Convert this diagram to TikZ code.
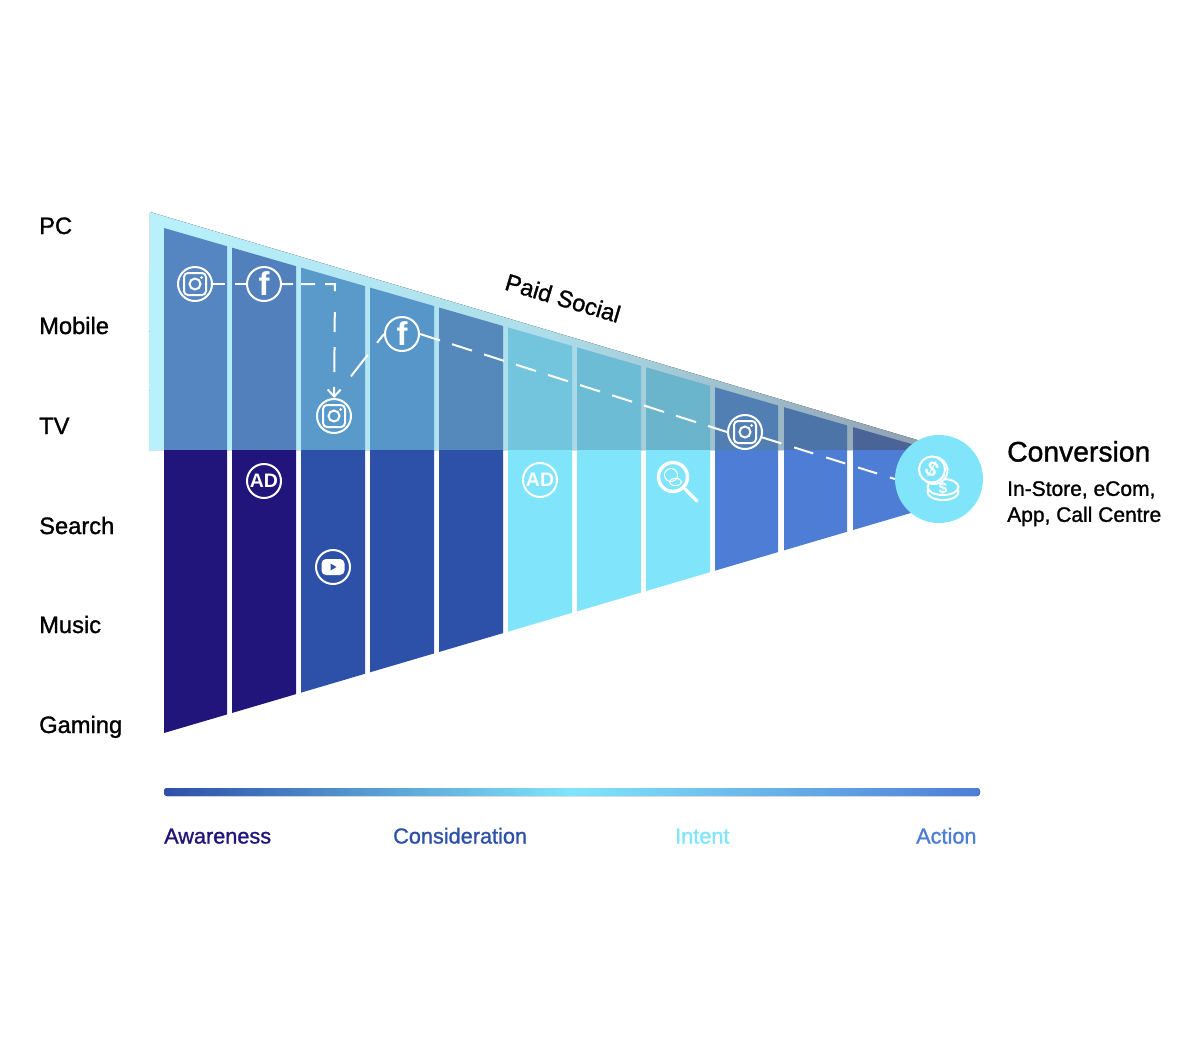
\documentclass[tikz,border=0pt]{standalone}
\usepackage{fontspec}
\setmainfont{Liberation Sans}
\newfontfamily\medfont[FakeBold=1.2]{Liberation Sans}
\usetikzlibrary{arrows.meta,shapes.geometric}
\definecolor{deep}{HTML}{21147A}
\definecolor{royal}{HTML}{2D50A8}
\definecolor{aqua}{HTML}{80E5FA}
\definecolor{sky}{HTML}{4E7DD6}
\definecolor{stripa}{HTML}{B8F1FC}
\definecolor{stripb}{HTML}{ADDDE9}
\definecolor{stripc}{HTML}{8E9CAD}
\definecolor{upa}{HTML}{5586C2}
\definecolor{upb}{HTML}{5180BD}
\definecolor{upc}{HTML}{5A9ACB}
\definecolor{upd}{HTML}{5796C8}
\definecolor{upe}{HTML}{5589BB}
\definecolor{upf}{HTML}{72C5DD}
\definecolor{upg}{HTML}{6CBCD5}
\definecolor{uph}{HTML}{6AB4CC}
\definecolor{upi}{HTML}{517FB4}
\definecolor{upj}{HTML}{4D74A8}
\definecolor{upk}{HTML}{4B6498}
\tikzset{
  rowlabel/.style={anchor=base west,inner sep=0pt,font=\medfont\fontsize{23.7}{28}\selectfont},
  stagelabel/.style={anchor=base west,inner sep=0pt,font=\medfont\fontsize{21.7}{26}\selectfont},
  ring/.style={circle,draw=white,line width=2pt,minimum size=34pt,inner sep=0pt,text=white},
  fbring/.style={ring,font=\bfseries\fontsize{33}{33}\selectfont},
  adring/.style={ring,font=\bfseries\fontsize{19.5}{19.5}\selectfont},
  path/.style={draw=white,line width=2pt},
  glyph/.style={draw=white,line width=2pt},
  instaglyph/.pic={
    \draw[glyph,rounded corners=4pt] (-11,-11) rectangle (11,11);
    \draw[glyph] (0,0) circle (5.5);
    \fill[white] (6.6,-6.6) circle (1.5);
  },
  tubeglyph/.pic={
    \fill[white,rounded corners=4.5pt] (-11.5,-8) rectangle (11.5,8);
    \fill[royal] (-2.5,-3.5) -- (3.5,0) -- (-2.5,3.5) -- cycle;
  },
  coinglyph/.pic={
    \draw[glyph,fill=aqua] (4,13) ellipse (15.5 and 8);
    \draw[glyph,fill=aqua] (4,8) ellipse (15.5 and 8);
    \node[text=white,font=\bfseries\fontsize{15}{15}\selectfont] (dollar) at (4,9) {\$};
    \draw[glyph,fill=aqua] (-5,-8.5) circle (13.5);
    \draw[glyph,fill=aqua] (-7,-9.5) circle (13);
    \node[text=white,rotate=-30,font=\bfseries\fontsize{21}{21}\selectfont] (tilted) at (-7,-9.5) {\$};
  },
  lensglyph/.pic={
    \draw[white,line width=3.4pt] (0,0) circle (14.5);
    \draw[white,line width=3.4pt,line cap=round] (12,12) -- (24,24);
    \draw[white,line width=1pt] (-2,-2) circle (6.5);
    \draw[white,line width=1pt] (2.5,5) ellipse (6 and 3.6);
  }
}
\begin{document}
\begin{tikzpicture}[x=1pt,y=-1pt]
  \useasboundingbox (0,0) rectangle (1200,1061);
  \fill[left color=stripa,right color=stripc,middle color=stripb]
    (150,212) -- (951,450) -- (149,450) -- cycle;
  \foreach \xa/\xb/\cup/\clow in {164/227/upa/deep,232/296/upb/deep,301/365/upc/royal,
      370/434/upd/royal,439/503/upe/royal,508/572/upf/aqua,577/641/upg/aqua,
      646/710/uph/aqua,715/778/upi/sky,784/847/upj/sky,853/916/upk/sky}{
    \pgfmathsetmacro\ya{228+(\xa-164)*0.289}
    \pgfmathsetmacro\yb{228+(\xb-164)*0.289}
    \pgfmathsetmacro\za{733-(\xa-164)*0.2946}
    \pgfmathsetmacro\zb{733-(\xb-164)*0.2946}
    \fill[\cup] (\xa,\ya) -- (\xb,\yb) -- (\xb,450.5) -- (\xa,450.5) -- cycle;
    \fill[\clow] (\xa,450) -- (\xb,450) -- (\xb,\zb) -- (\xa,\za) -- cycle;
  }
  \fill[rounded corners=3pt,left color=royal,right color=sky,middle color=aqua]
    (164,788) rectangle (980,796);

  \node[rowlabel] (pc) at (39,234) {PC};
  \node[rowlabel] (mobile) at (39,334) {Mobile};
  \node[rowlabel] (tv) at (39,434) {TV};
  \node[rowlabel] (search) at (39,534) {Search};
  \node[rowlabel] (music) at (39,633) {Music};
  \node[rowlabel] (gaming) at (39,733) {Gaming};
  \node[stagelabel,text=deep] (awareness) at (164,843.5) {Awareness};
  \node[stagelabel,text=royal] (consideration) at (393,843.5) {Consideration};
  \node[stagelabel,text=aqua] (intent) at (675,843.5) {Intent};
  \node[stagelabel,text=sky] (action) at (916,843.5) {Action};
  \node[rowlabel,rotate=-16.5,anchor=center] (paid) at (563,298) {Paid Social};
  \node[anchor=base west,inner sep=0pt,font=\medfont\fontsize{28.3}{32}\selectfont] (conversion) at (1007,461.5) {Conversion};
  \node[anchor=north west,inner sep=0pt,align=left,font=\medfont\fontsize{21}{26}\selectfont] (channels) at (1007,481) {In-Store, eCom,\\App, Call Centre};

  \node[ring] (ig1) at (195,284) {};
  \node[fbring] (fb1) at (264,284) {f};
  \node[ring] (ig2) at (334,416) {};
  \node[fbring] (fb2) at (402,334) {f};
  \node[ring] (ig3) at (745,432) {};
  \node[adring] (ad1) at (264,481) {AD};
  \node[adring] (ad2) at (540,480) {AD};
  \node[ring] (yt) at (333,567) {};
  \node[circle,fill=aqua,minimum size=88pt,inner sep=0pt] (money) at (939,479) {};
  \coordinate (lens) at (673,477);
  \coordinate (bend) at (335,284);

  \pic at (ig1) {instaglyph};
  \pic at (ig2) {instaglyph};
  \pic at (ig3) {instaglyph};
  \pic at (yt) {tubeglyph};
  \pic at (lens) {lensglyph};
  \pic at (money) {coinglyph};

  \draw[path,dash pattern=on 12 off 10] (ig1) -- (fb1);
  \draw[path,-{Straight Barb[length=7pt,width=13pt]},dash pattern=on 11 off 8 on 14 off 10 on 17 off 21 on 20 off 15 on 25 off 15 on 12 off 40]
    (fb1) -- (bend) -- (ig2);
  \draw[path,dash pattern=on 0 off 27.5 on 27.5 off 15 on 13 off 20] (ig2.north) -- (fb2.west);
  \draw[path,dash pattern=on 21 off 12.6] (fb2.east) -- (ig3.west);
  \draw[path,dash pattern=on 20 off 13.5] (ig3) -- (money.west);
\end{tikzpicture}
\end{document}
